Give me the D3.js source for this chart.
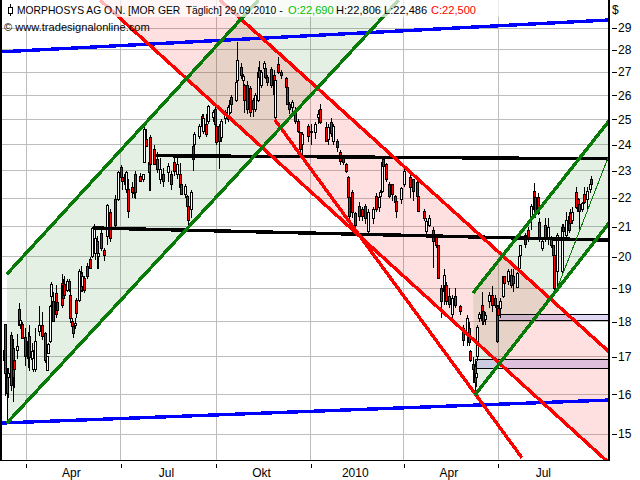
<!DOCTYPE html>
<html><head><meta charset="utf-8">
<script src="https://cdn.jsdelivr.net/npm/d3@7"></script>
<style>
html,body{margin:0;padding:0;background:#fff;overflow:hidden}
svg{display:block}
text{font-family:"Liberation Sans",Arial,sans-serif;font-size:12px;fill:#000}
text.hd{font-size:11.1px}
</style></head><body>
<svg id="c" width="640" height="480"></svg>
<script>
// [session, open, high, low, close]
const candlesPartA = [
[0,17.19,17.38,16.70,16.91],[1,17.93,17.93,15.96,16.54],[2,16.54,16.70,15.30,16.02],[3,16.43,16.70,15.91,16.54],
[5,17.60,17.70,16.09,16.22],[6,17.24,17.50,15.81,16.43],[7,16.91,16.97,16.17,16.65],[9,17.19,17.64,16.94,17.29],
[10,18.36,18.56,17.90,17.90],[11,17.93,18.10,17.80,18.04],[12,17.93,18.00,17.52,17.52],[14,17.55,17.81,16.75,17.02],
[16,17.44,17.70,16.70,16.97],[17,17.58,17.90,16.62,16.99],[19,16.94,17.38,16.83,17.16],[20,16.65,17.20,16.60,16.97],
[21,16.65,17.81,16.60,17.44],[24,17.72,18.48,17.60,17.90],[26,17.90,18.30,17.47,17.58],[28,17.67,17.70,16.83,16.89],
[29,16.62,17.00,16.62,17.00],[30,17.10,17.40,17.10,17.35],[31,17.44,18.50,17.40,18.45],[32,18.76,19.20,18.00,19.12],
[33,18.60,18.90,18.00,18.00],[35,18.85,19.10,18.10,18.20],[36,18.57,18.80,18.25,18.33],[39,19.15,19.46,18.40,18.48],
[40,19.09,19.30,18.60,18.69],[41,19.12,19.40,18.70,18.78],[43,18.94,19.30,18.90,19.21],[44,19.21,19.30,18.90,18.97],
[45,18.78,19.00,17.95,18.10],[46,18.00,18.10,17.80,17.87],[47,17.87,17.90,17.52,17.67],[48,17.90,18.10,17.80,17.96],
[49,18.63,18.70,18.10,18.24],[51,18.63,19.60,18.60,19.52],[52,19.46,19.70,18.90,18.94],[53,19.06,19.50,18.90,19.37],
[54,19.31,19.40,18.85,18.94],[56,19.68,19.80,19.30,19.37],[58,19.90,20.00,19.60,19.62],[60,20.00,21.00,19.95,20.93],
[61,20.26,21.10,20.20,20.93],[62,20.10,20.80,19.90,20.59],[63,20.52,20.70,19.62,20.10],[64,20.00,20.10,19.60,20.10],
[66,20.76,20.90,20.20,20.26],[68,20.20,20.30,19.85,20.04],[70,20.66,21.80,20.40,21.75],[72,21.50,21.60,20.50,20.59],
[75,21.96,22.10,21.00,21.03],[77,21.96,23.00,21.90,22.94],[79,23.12,23.23,22.70,22.75],[80,22.75,22.85,22.30,22.60],
[82,22.50,22.90,22.40,22.86],[83,22.30,23.00,22.20,22.94],[84,22.32,22.70,21.30,21.54],[87,22.40,22.60,22.00,22.20],
[88,22.15,22.40,22.00,22.39],[89,22.87,23.00,21.96,22.21],[92,22.80,22.90,22.60,22.60],[94,22.68,22.87,22.60,22.87],
[95,23.30,24.70,23.30,24.58],[96,24.19,24.60,23.90,23.92],[98,23.31,23.60,22.25,22.94],[99,24.27,24.38,22.25,23.23]
];
const candlesPartB = [
[102,23.80,24.00,23.20,23.23],[104,23.42,23.70,22.90,23.05],[106,22.68,23.50,22.50,23.05],[108,22.87,23.10,22.40,22.60],
[111,22.94,23.30,22.60,23.16],[113,22.87,23.00,22.30,22.50],[115,23.31,23.60,22.80,22.98],[117,22.87,23.60,22.70,23.23],
[119,22.87,23.30,22.30,22.39],[120,22.50,22.60,22.10,22.14],[123,22.14,22.50,22.00,22.43],[124,22.07,22.10,21.60,21.72],
[125,21.72,21.80,20.99,21.20],[127,21.61,22.30,21.30,22.20],[128,23.92,24.00,22.98,23.42],[129,24.00,24.50,23.80,24.38],
[132,24.31,24.80,24.20,24.70],[134,25.10,25.20,24.60,24.70],[135,24.50,25.20,24.40,25.05],[137,24.78,25.20,24.30,24.38],
[138,24.90,25.60,24.80,25.52],[142,25.06,25.40,24.90,25.27],[143,25.39,25.50,24.70,24.78],[144,24.70,24.80,24.00,24.07],
[146,24.70,24.80,23.05,24.11],[147,24.27,25.00,24.10,24.90],[150,25.05,25.40,24.80,25.30],[152,24.98,25.60,24.90,25.50],
[153,25.30,25.85,25.20,25.80],[154,25.90,26.00,25.50,25.60],[157,25.80,26.60,25.70,26.56],[158,26.65,28.35,26.50,27.52],
[161,27.20,27.40,26.70,26.86],[162,26.65,26.90,26.40,26.80],[163,26.40,26.50,25.25,25.80],[165,26.43,26.60,25.20,25.39],
[167,26.30,26.40,25.10,25.27],[169,25.80,25.90,25.10,25.39],[170,25.40,26.10,25.30,26.00],[172,25.80,27.20,25.70,27.00],
[173,27.08,27.50,26.50,26.78],[174,26.40,27.10,26.30,27.00],[176,27.17,27.50,27.10,27.38],[177,27.17,27.30,26.70,26.78],
[178,26.78,26.85,26.40,26.56],[181,27.10,27.20,26.30,26.43],[183,26.86,27.10,26.00,26.05],[184,25.06,26.80,24.90,26.65],
[186,27.35,27.65,26.90,27.00],[188,27.00,27.10,26.70,26.85],[191,26.72,26.80,26.30,26.35],[192,26.35,26.60,25.60,25.60],
[193,25.60,25.70,25.20,25.39],[195,25.47,25.80,25.20,25.68],[197,25.31,25.50,24.80,24.90],[199,24.90,25.00,24.45,24.50],
[201,24.46,24.50,23.60,23.80],[202,24.00,24.50,23.60,24.40],[206,24.70,24.80,24.10,24.31],[208,24.50,24.80,24.00,24.46],
[211,24.46,24.90,24.20,24.78],[213,25.06,25.40,24.80,25.18],[214,25.39,25.65,24.80,24.86]
];
const candlesPartC = [
[218,24.66,24.90,24.10,24.11],[220,24.19,24.80,24.00,24.66],[222,24.86,25.05,24.30,24.42],[223,24.11,24.80,24.00,24.70],
[226,24.11,24.20,23.70,23.88],[228,23.69,23.80,23.20,23.34],[230,23.53,23.60,23.20,23.31],[232,23.23,23.30,22.90,22.98],
[233,22.75,22.80,22.00,22.03],[234,22.03,22.10,21.10,21.37],[236,22.20,22.30,21.30,21.50],[238,21.45,21.50,21.00,21.06],
[241,21.71,21.85,21.20,21.37],[243,21.60,21.70,21.20,21.37],[245,21.71,21.80,21.10,21.27],[247,20.83,21.60,20.80,21.50],
[250,21.27,21.70,21.10,21.61],[252,22.07,22.20,21.50,21.61],[254,21.68,22.10,21.50,22.03],[255,22.07,22.30,21.70,22.20],
[256,22.25,23.50,22.20,23.31],[257,23.42,23.55,23.10,23.16],[259,23.23,23.30,22.60,22.68],[261,22.50,22.60,22.00,22.07],
[263,22.50,22.50,21.90,22.14],[265,22.07,22.10,21.80,21.85],[266,21.89,22.00,21.30,21.54],[269,21.96,22.40,21.80,22.36],
[271,22.50,23.10,22.40,22.98],[275,22.75,22.90,22.00,22.39],[277,22.68,22.70,21.90,22.25],[280,22.57,22.70,22.00,22.07],
[281,22.07,22.10,21.50,21.54],[285,21.54,21.60,21.20,21.27],[286,20.83,21.30,20.70,21.17],[288,21.05,21.40,21.00,21.30],
[291,20.86,21.00,19.65,20.50],[293,20.66,20.70,20.30,20.36],[294,20.36,20.40,19.30,19.31],[296,19.00,19.10,18.10,18.60],
[298,18.90,19.60,18.50,19.40],[299,19.10,19.20,18.60,18.69],[300,19.10,19.20,18.50,18.60],[302,18.75,19.00,18.40,18.50],
[304,18.20,18.80,18.10,18.69],[306,18.75,19.00,18.40,18.48],[309,18.45,18.50,18.20,18.30],[311,17.81,17.90,17.30,17.47],
[314,17.67,18.20,17.30,18.10],[315,17.81,18.00,17.30,17.41],[316,17.16,17.20,16.85,16.91],[318,16.78,17.00,16.30,16.65],
[319,16.75,16.90,16.05,16.30],[320,16.45,16.90,16.20,16.55],[321,17.02,17.90,16.90,17.84],[322,18.10,18.30,18.00,18.20]
];
const candlesPartD = [
[324,18.48,18.90,17.90,18.04],[325,18.30,18.50,17.90,18.00],[326,18.06,18.30,17.90,18.19],[329,18.60,18.90,18.40,18.78],
[331,18.78,19.06,18.30,18.48],[333,18.69,18.80,18.40,18.48],[334,18.45,18.50,17.40,17.44],[335,18.39,18.50,18.10,18.17],
[336,18.39,18.70,18.10,18.60],[338,18.75,19.40,18.70,19.37],[339,19.37,19.40,19.10,19.15],[342,19.21,19.60,19.10,19.52],
[344,19.40,19.60,19.00,19.09],[345,19.37,19.60,18.90,19.15],[348,19.03,19.50,19.00,19.46],[349,19.62,20.10,19.60,20.00],
[350,20.04,20.40,20.00,20.36],[353,20.69,20.80,20.30,20.42],[355,20.86,21.00,20.50,20.59],[357,21.33,21.80,20.90,21.71],
[359,22.25,22.53,21.50,21.61],[360,22.03,22.10,21.30,21.54],[362,22.03,22.20,21.40,21.45],[363,21.14,21.30,20.50,20.59],
[365,20.26,20.60,20.20,20.52],[367,21.03,21.30,20.50,20.59],[369,20.59,21.30,20.40,20.99],[371,20.59,20.70,20.30,20.36],
[372,20.36,20.40,20.00,20.04],[373,20.04,20.10,18.95,19.00],[375,19.52,20.80,19.00,20.69],[378,19.52,21.10,19.40,20.99],
[379,20.99,21.10,20.70,20.83],[381,20.72,21.50,20.60,21.20],[383,21.37,21.50,20.80,20.86],[384,21.45,21.60,21.10,21.10],
[385,21.20,21.70,21.10,21.50],[388,22.20,22.40,21.60,21.68],[389,21.96,22.00,21.50,21.54],[390,21.79,21.90,20.90,21.54],
[392,21.61,21.85,21.50,21.80],[393,22.14,22.40,21.80,21.85],[395,21.96,22.40,21.60,22.25],[397,22.32,22.60,22.20,22.50],
[398,22.690,22.806,22.486,22.500]
];

const priceTicks = [29,28,27,26,25,24,23,22,21,20,19,18,17,16,15];
const quarterSessions = [15,79,144,208,271,335,399];
const quarterLabels = ["Apr","Jul","Okt","2010","Apr","Jul"];

// trend lines: [session, price, session, price]
const blueLines  = [[-1.4,27.9,410.2,29.38],[-1.4,15.27,410.2,15.85]];
const greenOne   = [[2,19.45,172.6,30.35],[2,15.27,267.7,30.35]];
const greenTwo   = [[318,18.86,410.2,24.94],[319.3,15.98,410.2,21.13]];
const greenThin  = [[375.6,19.07,410.2,23.59]];
const redChannel = [[146.4,30.35,410.2,17.14],[65.1,30.35,410.2,14.31]];
const redExtra   = [[183.7,24.98,351.2,14.43]];
const blackLines = [[102.4,23.57,410.2,23.45],[60.3,20.96,410.2,20.55]];
// bands: [session start, session end, upper price, lower price]
const bands = [[335,410.2,18.21,18.05],[320,410.2,16.94,16.67]];

const candles = [...candlesPartA,...candlesPartB,...candlesPartC,...candlesPartD];

const svg = d3.select("#c");
const x = d3.scaleLinear().domain([0,399]).range([4,592.5]);
const y = d3.scaleLog().domain([15,29]).range([434,28]);
const L=2,R=609,B=460;

svg.append("defs").append("clipPath").attr("id","plot").append("rect")
  .attr("x",L).attr("y",0).attr("width",R-L).attr("height",B);

// grid
const grid = svg.append("g").attr("stroke","#bdbdbd").attr("stroke-width",1).attr("shape-rendering","crispEdges");
grid.selectAll(".h").data(priceTicks).join("line").attr("x1",L).attr("x2",R).attr("y1",d=>y(d)).attr("y2",d=>y(d));
grid.selectAll(".v").data(quarterSessions.slice(0,6)).join("line").attr("x1",d=>x(d)).attr("x2",d=>x(d)).attr("y1",0).attr("y2",B);

const plot = svg.append("g").attr("clip-path","url(#plot)");
const poly = (a,b)=>[[a[0],a[1]],[a[2],a[3]],[b[2],b[3]],[b[0],b[1]]].map(p=>[x(p[0]),y(p[1])].join(",")).join(" ");

// channel fills
plot.append("polygon").attr("points",poly(greenOne[0],greenOne[1])).attr("fill","rgba(0,110,0,0.105)");
plot.append("polygon").attr("points",poly(greenTwo[0],greenTwo[1])).attr("fill","rgba(0,110,0,0.105)");
plot.append("polygon").attr("points",poly(redChannel[0],redChannel[1])).attr("fill","rgba(255,0,0,0.12)");

// bands
plot.selectAll(".band").data(bands).join("rect")
  .attr("x",d=>x(d[0])).attr("width",d=>x(d[1])-x(d[0]))
  .attr("y",d=>y(d[2])).attr("height",d=>y(d[3])-y(d[2]))
  .attr("fill","rgba(130,100,210,0.26)").attr("stroke","#000").attr("stroke-width",1).attr("shape-rendering","crispEdges");

// candles
const cg = plot.append("g").attr("shape-rendering","crispEdges");
const px = d=>Math.round(x(d[0]))+0.5;
cg.selectAll(".w").data(candles).join("line")
  .attr("x1",px).attr("x2",px).attr("y1",d=>y(d[2])).attr("y2",d=>y(d[3]))
  .attr("stroke","#000").attr("stroke-width",1);
cg.selectAll(".b").data(candles).join("rect")
  .attr("x",d=>px(d)-1).attr("width",2)
  .attr("y",d=>y(Math.max(d[1],d[4])))
  .attr("height",d=>Math.max(1,Math.abs(y(d[1])-y(d[4]))))
  .attr("fill",d=>d[4]<d[1]?"#ff0000":"#ffffff")
  .attr("stroke","#000").attr("stroke-width",1);

// trend lines
function lines(data,color,w){
  plot.append("g").selectAll("line").data(data).join("line")
    .attr("x1",d=>x(d[0])).attr("y1",d=>y(d[1])).attr("x2",d=>x(d[2])).attr("y2",d=>y(d[3]))
    .attr("stroke",color).attr("stroke-width",w).attr("shape-rendering","crispEdges");
}
lines(blackLines,"#000",3.4);
lines(blueLines,"#0000ff",3.4);
lines(redChannel,"#ff0000",3.4);
lines(redExtra,"#ff0000",3.4);
lines(greenOne,"#087a08",3.4);
lines(greenTwo,"#087a08",3.4);
lines(greenThin,"#087a08",1);

// header veil
svg.append("rect").attr("x",L).attr("y",0).attr("width",R-L).attr("height",17).attr("fill","rgba(255,255,255,0.72)");

// frame
const frame = svg.append("g").attr("stroke","#000").attr("shape-rendering","crispEdges");
frame.append("line").attr("x1",1).attr("x2",1).attr("y1",0).attr("y2",B).attr("stroke-width",2);
frame.append("line").attr("x1",R).attr("x2",R).attr("y1",0).attr("y2",B).attr("stroke-width",2);
frame.append("line").attr("x1",0).attr("x2",R+1).attr("y1",B).attr("y2",B).attr("stroke-width",1);

// axes
const ya = d3.axisRight(y).tickValues(priceTicks).tickFormat(d3.format("d")).tickSize(5).tickPadding(1);
const yg = svg.append("g").attr("transform",`translate(612,0)`).call(ya);
yg.select(".domain").remove();
yg.selectAll("text").attr("font-size",null).attr("font-family",null);
yg.selectAll("line").attr("shape-rendering","crispEdges");

const xa = d3.axisBottom(x).tickValues(quarterSessions.slice(0,6)).tickFormat("").tickSize(4);
const xg = svg.append("g").attr("transform",`translate(0,464)`).call(xa);
xg.select(".domain").remove();
xg.selectAll("line").attr("shape-rendering","crispEdges");

svg.selectAll(".ql").data(quarterLabels).join("text")
  .attr("x",(d,i)=>x((quarterSessions[i]+quarterSessions[i+1])/2)-2)
  .attr("y",477).attr("text-anchor","middle").text(d=>d);

svg.append("text").attr("x",612).attr("y",14).text("$");

// header
const icon = svg.append("g").attr("stroke","#000").attr("shape-rendering","crispEdges");
icon.append("line").attr("x1",10.5).attr("x2",10.5).attr("y1",4).attr("y2",16);
icon.append("rect").attr("x",8.5).attr("y",7.5).attr("width",4).attr("height",6).attr("fill","#fff");

const head = [
 {t:"MORPHOSYS AG O.N. [MOR GER  Täglich] 29.09.2010 -",x:17,sx:0.93,c:"#000"},
 {t:"O:22,690",x:288,sx:1,c:"#00c000"},
 {t:"H:22,806",x:336,sx:1,c:"#000"},
 {t:"L:22,486",x:384,sx:1,c:"#000"},
 {t:"C:22,500",x:431,sx:1,c:"#ff0000"}
];
svg.selectAll(".hd").data(head).join("text").attr("class","hd")
  .attr("transform",d=>`translate(${d.x},14) scale(${d.sx},1)`)
  .style("white-space","pre").style("fill",d=>d.c).text(d=>d.t);
svg.append("text").attr("class","hd").attr("x",4).attr("y",31).text("© www.tradesignalonline.com");
</script>
</body></html>
